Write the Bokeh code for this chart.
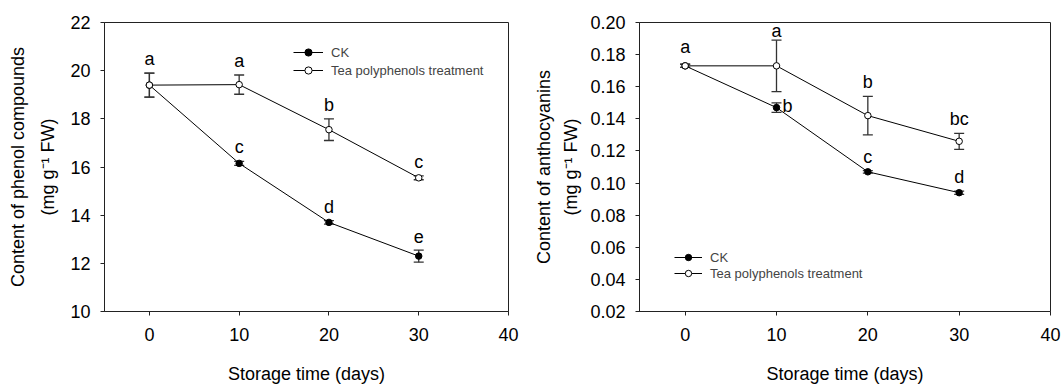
import numpy as np
from bokeh.plotting import figure
from bokeh.layouts import row
from bokeh.models import (ColumnDataSource, Range1d, FixedTicker, Whisker, TeeHead,
                          Legend, LegendItem, PrintfTickFormatter)
from bokeh.core.properties import value
from bokeh.embed import file_html
from bokeh.resources import INLINE

# ---------------- data ----------------
days = [0, 10, 20, 30]

# Left: phenol compounds (mg g-1 FW)
phenol_ck = [19.4, 16.15, 13.7, 12.3]
phenol_ck_err = [0.5, 0.08, 0.07, 0.25]
phenol_tea = [19.4, 19.42, 17.55, 15.55]
phenol_tea_err = [0.5, 0.4, 0.45, 0.08]
phenol_ck_letters = ["", "c", "d", "e"]
phenol_tea_letters = ["a", "a", "b", "c"]

# Right: anthocyanins (mg g-1 FW)
antho_ck = [0.173, 0.147, 0.107, 0.094]
antho_ck_err = [0.001, 0.003, 0.0008, 0.001]
antho_tea = [0.173, 0.173, 0.142, 0.126]
antho_tea_err = [0.001, 0.016, 0.012, 0.005]
antho_ck_letters = ["", "b", "c", "d"]
antho_tea_letters = ["a", "a", "b", "bc"]

x_ticks = [0, 10, 20, 30, 40]
phenol_ticks = [10, 12, 14, 16, 18, 20, 22]
antho_ticks = [0.02, 0.04, 0.06, 0.08, 0.10, 0.12, 0.14, 0.16, 0.18, 0.20]

FONT = "Liberation Sans"
AXC = "#222222"


def make_panel(ck, ck_err, tea, tea_err, ck_letters, tea_letters, ylab, yticks, yrange,
               width, borders, legend_loc, legend_rowh, glyph_w, legend_spacing=0, fmt=None,
               ck_letter_side=None, letter_gap=None, ylab_standoff=12, ylab_lh=1.35):
    bl, br, bt, bb = borders
    p = figure(width=width, height=388, output_backend="svg", toolbar_location=None,
               x_range=Range1d(-5, 40), y_range=Range1d(*yrange),
               min_border_left=bl, min_border_right=br, min_border_top=bt, min_border_bottom=bb)
    p.xgrid.visible = False
    p.ygrid.visible = False
    p.outline_line_color = AXC
    p.outline_line_width = 1
    p.background_fill_color = "white"
    p.border_fill_color = "white"

    for ax in (p.xaxis[0], p.yaxis[0]):
        ax.axis_line_color = AXC
        ax.major_tick_line_color = AXC
        ax.minor_tick_line_color = None
        ax.major_tick_in = 0
        ax.major_tick_out = 4
        ax.major_label_text_font = FONT
        ax.major_label_text_font_size = "18px"
        ax.major_label_text_color = "black"
        ax.axis_label_text_font = FONT
        ax.axis_label_text_font_size = "18px"
        ax.axis_label_text_font_style = "normal"
        ax.axis_label_text_color = "black"
    p.xaxis.ticker = FixedTicker(ticks=x_ticks)
    p.yaxis.ticker = FixedTicker(ticks=yticks)
    if fmt:
        p.yaxis.formatter = PrintfTickFormatter(format=fmt)
    p.xaxis.major_label_standoff = 12
    p.yaxis.major_label_standoff = 10
    p.xaxis.axis_label = "Storage time (days)"
    p.xaxis.axis_label_standoff = 20
    p.yaxis.axis_label = ylab
    p.yaxis.axis_label_standoff = ylab_standoff
    p.yaxis.axis_label_text_line_height = ylab_lh

    ck_src = ColumnDataSource(dict(x=days, y=ck,
                                   lo=[a - b for a, b in zip(ck, ck_err)],
                                   hi=[a + b for a, b in zip(ck, ck_err)]))
    tea_src = ColumnDataSource(dict(x=days, y=tea,
                                    lo=[a - b for a, b in zip(tea, tea_err)],
                                    hi=[a + b for a, b in zip(tea, tea_err)]))
    for src in (ck_src, tea_src):
        w = Whisker(base="x", upper="hi", lower="lo", source=src, dimension="height",
                    line_color="#333333", line_width=1.3,
                    upper_head=TeeHead(size=10, line_color="#333333", line_width=1.3),
                    lower_head=TeeHead(size=10, line_color="#333333", line_width=1.3))
        p.add_layout(w)

    l_ck = p.line("x", "y", source=ck_src, line_color="black", line_width=1)
    l_tea = p.line("x", "y", source=tea_src, line_color="black", line_width=1)
    m_ck = p.scatter("x", "y", source=ck_src, marker="circle", size=6.5,
                     fill_color="black", line_color="black", line_width=1)
    m_tea = p.scatter("x", "y", source=tea_src, marker="circle", size=6.5,
                      fill_color="white", line_color="black", line_width=1)

    # significance letters
    gaps = letter_gap or {}
    for series, letters, errs, key in ((ck, ck_letters, ck_err, "ck"),
                                       (tea, tea_letters, tea_err, "tea")):
        for i, (xv, yv, ev, t) in enumerate(zip(days, series, errs, letters)):
            if not t:
                continue
            if key == "ck" and ck_letter_side and ck_letter_side.get(i) == "right":
                p.text(x=[xv], y=[yv], text=[t], text_font=value(FONT), text_font_size="18px",
                       text_align="left", text_baseline="alphabetic", x_offset=6, y_offset=-2,
                       text_color="black")
            else:
                g = gaps.get((key, i), 8)
                p.text(x=[xv], y=[yv + ev], text=[t], text_font=value(FONT),
                       text_font_size="18px", text_align="center",
                       text_baseline="alphabetic", y_offset=-(g + 6), text_color="black")

    legend = Legend(items=[LegendItem(label="CK", renderers=[l_ck, m_ck]),
                           LegendItem(label="Tea polyphenols treatment", renderers=[l_tea, m_tea])],
                    location=legend_loc, padding=0, spacing=legend_spacing, margin=0,
                    label_text_font=FONT, label_text_font_size="13px",
                    label_height=legend_rowh, glyph_height=legend_rowh, glyph_width=glyph_w,
                    label_standoff=8, background_fill_alpha=0, border_line_alpha=0)
    p.add_layout(legend)
    return p


left = make_panel(phenol_ck, phenol_ck_err, phenol_tea, phenol_tea_err,
                  phenol_ck_letters, phenol_tea_letters,
                  "Content of phenol compounds\n(mg g\u207b\u00b9 FW)", phenol_ticks, (10, 22),
                  531, (104, 23, 22, 77), (189, 232), 18, 30, ylab_standoff=9, ylab_lh=1.5)

right = make_panel(antho_ck, antho_ck_err, antho_tea, antho_tea_err,
                   antho_ck_letters, antho_tea_letters,
                   "Content of anthocyanins\n(mg g\u207b\u00b9 FW)", antho_ticks, (0.02, 0.20),
                   531, (107, 12, 20, 71), (35, 30), 16, 28, legend_spacing=-2, fmt="%.2f",
                   ck_letter_side={1: "right"},
                   letter_gap={("tea", 0): 11, ("tea", 1): 3}, ylab_standoff=6)

layout = row(left, right, spacing=0)
open("out.html", "w").write(file_html(layout, INLINE))
